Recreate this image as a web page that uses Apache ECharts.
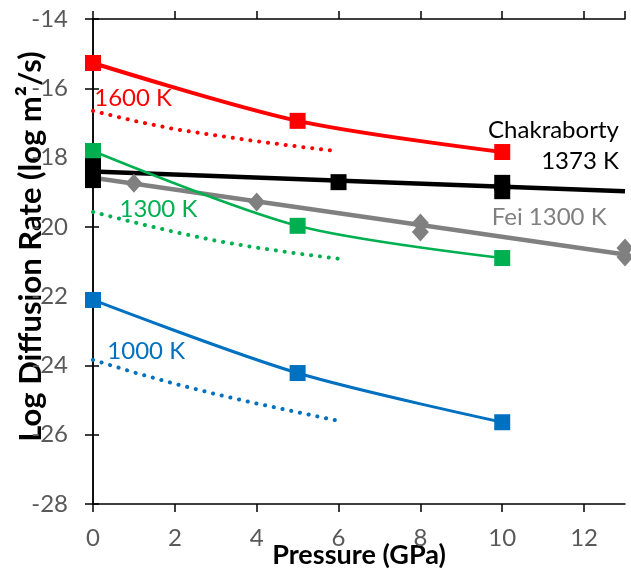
<!doctype html>
<html>
<head>
<meta charset="utf-8">
<title>Log Diffusion Rate vs Pressure</title>
<script src="https://cdn.jsdelivr.net/npm/echarts@6/dist/echarts.min.js"></script>
<style>
  html, body { margin: 0; padding: 0; background: #fff; }
  #chart { width: 631px; height: 570px; }
</style>
</head>
<body>
<div id="chart"></div>
<script>
// ---- data ----
var xTicks = [0, 2, 4, 6, 8, 10, 12];
var yTicks = [-14, -16, -18, -20, -22, -24, -26, -28];

var sqPressure = [0, 5, 10];
var red1600 = [-15.27, -16.94, -17.84];
var green1300 = [-17.81, -19.97, -20.90];
var blue1000 = [-22.11, -24.22, -25.64];

var modelPressure = [0, 1, 2, 3, 4, 5, 6];
var red1600Model = [-16.65, -16.94, -17.18, -17.36, -17.53, -17.68, -17.82];
var green1300Model = [-19.57, -19.87, -20.15, -20.40, -20.60, -20.77, -20.92];
var blue1000Model = [-23.84, -24.20, -24.53, -24.83, -25.10, -25.35, -25.60];

var chakFitP = [0, 13];
var chakFit = [-18.40, -18.97];
var chakP = [0, 0, 6, 10, 10];
var chakD = [-18.25, -18.65, -18.71, -18.73, -18.97];

var feiFitP = [0, 13];
var feiFit = [-18.58, -20.80];
var feiP = [1, 4, 8, 8, 13, 13];
var feiD = [-18.74, -19.28, -19.89, -20.15, -20.61, -20.87];

function pairs(xs, ys) {
    return xs.map(function (x, i) { return [x, ys[i]]; });
}

var FONT = 'Lato';
var chart = echarts.init(document.getElementById('chart'));

var dotted = function (color) {
    return { color: color, width: 4, type: [0.1, 8.8], cap: 'round' };
};

var option = {
    animation: false,
    textStyle: { fontFamily: FONT },
    grid: { left: 93, right: 6, top: 19, bottom: 66, outerBoundsMode: 'none', containLabel: false },
    xAxis: [
        {
            type: 'value', min: 0, max: 13, interval: 2,
            name: 'Pressure (GPa)', nameLocation: 'middle', nameGap: 38, nameMoveOverlap: false,
            nameTextStyle: { fontFamily: FONT, fontWeight: 'bold', fontSize: 27, color: '#000' },
            axisLine: { lineStyle: { color: '#000', width: 1.5 } },
            axisTick: { length: 8, lineStyle: { color: '#000', width: 1.5 } },
            axisLabel: { fontSize: 24, color: '#595959', margin: 22, showMaxLabel: false },
            splitLine: { show: false }
        },
        {
            type: 'value', min: 0, max: 13, interval: 2, position: 'top',
            axisLine: { lineStyle: { color: '#000', width: 1.5 } },
            axisTick: { length: 8, lineStyle: { color: '#000', width: 1.5 } },
            axisLabel: { show: false },
            splitLine: { show: false }
        }
    ],
    yAxis: [
        {
            type: 'value', min: -28, max: -14, interval: 2,
            name: 'Log Diffusion Rate (log m²/s)', nameLocation: 'middle', nameGap: 47, nameMoveOverlap: false,
            nameTextStyle: { fontFamily: FONT, fontWeight: 'bold', fontSize: 31, color: '#000',
                             padding: [0, 0, 0, 30] },
            axisLine: { lineStyle: { color: '#000', width: 1.5 } },
            axisTick: { length: 8, lineStyle: { color: '#000', width: 1.5 } },
            axisLabel: { fontSize: 24, color: '#595959', margin: 25 },
            splitLine: { show: false }
        },
        {
            type: 'value', min: -28, max: -14, interval: 2, position: 'right',
            axisLine: { lineStyle: { color: '#000', width: 1.5 } },
            axisTick: { length: 6, lineStyle: { color: '#000', width: 1.5 } },
            axisLabel: { show: false },
            splitLine: { show: false }
        }
    ],
    series: [
        { type: 'line', data: pairs(feiFitP, feiFit), symbol: 'none', z: 2,
          lineStyle: { color: '#808080', width: 4.5 } },
        { type: 'scatter', data: pairs(feiP, feiD), symbol: 'diamond', symbolSize: [17, 19], clip: false, z: 3,
          itemStyle: { color: '#808080', opacity: 1 } },
        { type: 'line', data: pairs(chakFitP, chakFit), symbol: 'none', z: 3,
          lineStyle: { color: '#000', width: 4.5 } },
        { type: 'line', data: pairs(modelPressure, red1600Model), symbol: 'none', z: 4, lineStyle: dotted('#FF0000') },
        { type: 'line', data: pairs(modelPressure, green1300Model), symbol: 'none', z: 4, lineStyle: dotted('#00B050') },
        { type: 'line', data: pairs(modelPressure, blue1000Model), symbol: 'none', z: 4, lineStyle: dotted('#0070C0') },
        { type: 'line', data: pairs(sqPressure, red1600), smooth: 0.3, symbol: 'rect', symbolSize: 16, z: 5,
          lineStyle: { color: '#FF0000', width: 4 }, itemStyle: { color: '#FF0000' } },
        { type: 'line', data: pairs(sqPressure, green1300), smooth: 0.3, symbol: 'rect', symbolSize: 16, z: 5,
          lineStyle: { color: '#00B050', width: 2.5 }, itemStyle: { color: '#00B050' } },
        { type: 'line', data: pairs(sqPressure, blue1000), smooth: 0.3, symbol: 'rect', symbolSize: 16, z: 5,
          lineStyle: { color: '#0070C0', width: 3 }, itemStyle: { color: '#0070C0' } },
        { type: 'scatter', data: pairs(chakP, chakD), symbol: 'rect', symbolSize: 16, clip: false, z: 6,
          itemStyle: { color: '#000', opacity: 1 } }
    ]
};
chart.setOption(option);

// annotation text, anchored in data coordinates
var notes = [
    { text: '1600 K', at: [0.03, -16.3], color: '#FF0000', align: 'left' },
    { text: '1300 K', at: [0.65, -19.5], color: '#00B050', align: 'left' },
    { text: '1000 K', at: [0.35, -23.58], color: '#0070C0', align: 'left' },
    { text: 'Chakraborty', at: [12.85, -17.2], color: '#000', align: 'right' },
    { text: '1373 K', at: [12.85, -18.1], color: '#000', align: 'right' },
    { text: 'Fei 1300 K', at: [12.55, -19.72], color: '#808080', align: 'right' }
];
chart.setOption({
    graphic: notes.map(function (n) {
        var p = chart.convertToPixel({ gridIndex: 0 }, n.at);
        return {
            type: 'text', x: p[0], y: p[1], z: 10,
            style: { text: n.text, fill: n.color, font: '24px ' + FONT,
                     align: n.align, verticalAlign: 'middle' }
        };
    })
});
</script>
</body>
</html>
